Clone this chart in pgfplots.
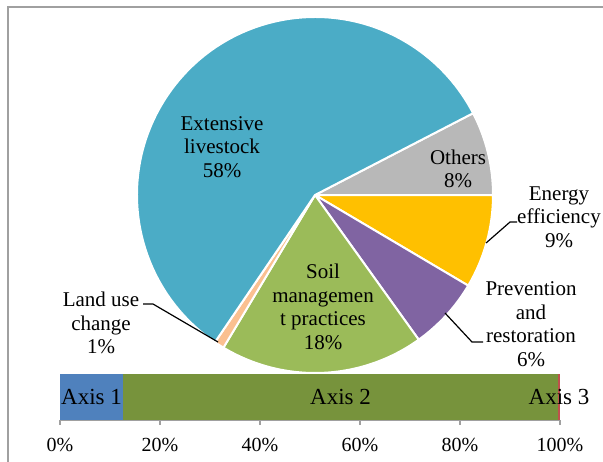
\documentclass[border=0pt]{standalone}
\usepackage{pgfplots}
\pgfplotsset{compat=1.18}
\usepackage{pgfplotstable}
\usepackage{fontspec}
\setmainfont{Liberation Serif}
\definecolor{cTeal}{HTML}{4BACC6}
\definecolor{cGray}{HTML}{B8B8B8}
\definecolor{cGold}{HTML}{FFC000}
\definecolor{cPurple}{HTML}{8064A2}
\definecolor{cGreen}{HTML}{9BBB59}
\definecolor{cPeach}{HTML}{FAC090}
\definecolor{cBlue}{HTML}{4F81BD}
\definecolor{cOlive}{HTML}{77933C}
\definecolor{cRed}{HTML}{C0504D}
\definecolor{cBorder}{HTML}{A0A0A0}
\pgfplotstableread{
name pct
Others 7.6
Energy 8.5
Prevention 6.6
Soil 18.5
Land 0.9
Extensive 57.9
}\piedata
\begin{document}
\begin{tikzpicture}[x=0.5pt,y=-0.5pt]
\path[use as bounding box] (0,0) rectangle (603,461);
\coordinate (pieSW) at (0,461);
\coordinate (barSW) at (60,420);
\draw[color=cBorder, line width=1pt] (8,470) -- (8,7) -- (615,7);
\pgfplotstablegetelem{0}{pct}\of\piedata\pgfmathsetmacro\pA{\pgfplotsretval}
\pgfplotstablegetelem{1}{pct}\of\piedata\pgfmathsetmacro\pB{\pgfplotsretval}
\pgfplotstablegetelem{2}{pct}\of\piedata\pgfmathsetmacro\pC{\pgfplotsretval}
\pgfplotstablegetelem{3}{pct}\of\piedata\pgfmathsetmacro\pD{\pgfplotsretval}
\pgfplotstablegetelem{4}{pct}\of\piedata\pgfmathsetmacro\pE{\pgfplotsretval}
\pgfplotstablegetelem{5}{pct}\of\piedata\pgfmathsetmacro\pF{\pgfplotsretval}
\pgfmathsetmacro\aS{3.6*\pA}
\pgfmathsetmacro\aA{\aS-3.6*\pA}
\pgfmathsetmacro\aB{\aA-3.6*\pB}
\pgfmathsetmacro\aC{\aB-3.6*\pC}
\pgfmathsetmacro\aD{\aC-3.6*\pD}
\pgfmathsetmacro\aE{\aD-3.6*\pE}
\pgfmathsetmacro\aF{\aE-3.6*\pF}
\begin{axis}[at={(pieSW)}, anchor=south west, x=0.5pt, y=0.5pt,
  xmin=-315, xmax=288, ymin=-266, ymax=195, hide axis, clip=false]
\fill[cGray, draw=white, line width=1pt] (axis cs:0,0) -- (axis cs:{178*cos(\aS)},{178*sin(\aS)}) arc[start angle=\aS, end angle=\aA, radius=89pt] -- cycle;
\fill[cGold, draw=white, line width=1pt] (axis cs:0,0) -- (axis cs:{178*cos(\aA)},{178*sin(\aA)}) arc[start angle=\aA, end angle=\aB, radius=89pt] -- cycle;
\fill[cPurple, draw=white, line width=1pt] (axis cs:0,0) -- (axis cs:{178*cos(\aB)},{178*sin(\aB)}) arc[start angle=\aB, end angle=\aC, radius=89pt] -- cycle;
\fill[cGreen, draw=white, line width=1pt] (axis cs:0,0) -- (axis cs:{178*cos(\aC)},{178*sin(\aC)}) arc[start angle=\aC, end angle=\aD, radius=89pt] -- cycle;
\fill[cPeach, draw=white, line width=1pt] (axis cs:0,0) -- (axis cs:{178*cos(\aD)},{178*sin(\aD)}) arc[start angle=\aD, end angle=\aE, radius=89pt] -- cycle;
\fill[cTeal, draw=white, line width=1pt] (axis cs:0,0) -- (axis cs:{178*cos(\aE)},{178*sin(\aE)}) arc[start angle=\aE, end angle=\aF, radius=89pt] -- cycle;
\end{axis}
\begin{scope}[font=\fontsize{10.5}{11.75}\selectfont]
\node[align=center] at (222,147) {Extensive\\livestock\\58\%};
\node[align=center] at (458,169) {Others\\8\%};
\node[align=center] at (559,217) {Energy\\efficiency\\9\%};
\node[align=center] at (531,324) {Prevention\\and\\restoration\\6\%};
\node[align=center] at (323,307) {Soil\\managemen\\t practices\\18\%};
\node[align=center] at (101,323) {Land use\\change\\1\%};
\end{scope}
\draw[line width=0.6pt] (143,304) -- (153,304) -- (218,342);
\draw[line width=0.6pt] (517,222) -- (510,222) -- (486,243);
\draw[line width=0.6pt] (483,342) -- (472,342) -- (445,313);
\begin{axis}[at={(barSW)}, anchor=south west, scale only axis,
  width=250pt, height=23pt, xmin=0, xmax=100, ymin=0, ymax=1,
  xbar stacked, bar width=23pt,
  axis x line=bottom, axis y line=none,
  x axis line style={-, draw=cBorder, line width=0.8pt},
  xtick={0,20,40,60,80,100},
  xticklabels={0\%,20\%,40\%,60\%,80\%,100\%},
  tick align=outside, major tick length=2.5pt,
  xtick style={draw=cBorder, line width=0.8pt},
  ytick=\empty, clip=false,
  xticklabel style={font=\fontsize{10}{12}\selectfont, yshift=-3pt}]
\addplot[fill=cBlue, draw=none] coordinates {(12.6,0.5)};
\addplot[fill=cOlive, draw=none] coordinates {(87.0,0.5)};
\addplot[fill=cRed, draw=none] coordinates {(0.4,0.5)};
\end{axis}
\begin{scope}[font=\fontsize{11.5}{13}\selectfont]
\node at (91.5,397) {Axis 1};
\node at (340.5,397) {Axis 2};
\node at (559,397) {Axis 3};
\end{scope}
\end{tikzpicture}
\end{document}
